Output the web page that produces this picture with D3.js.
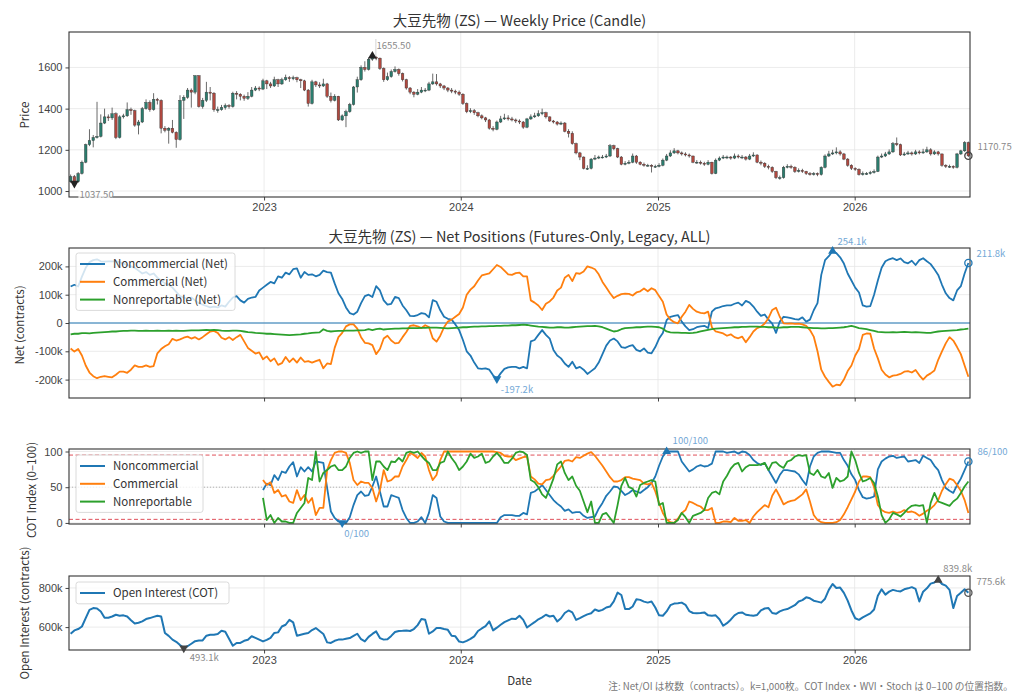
<!DOCTYPE html>
<meta charset="utf-8">
<title>大豆先物 (ZS) — COT</title>
<style>
  body { margin: 0; background: #fff; }
  svg { font-family: "Noto Sans CJK JP", "Noto Sans", sans-serif; }
  .tick text { fill: #444; font-size: 11px; }
  .tick line { stroke: #444; }
  .domain { display: none; }
</style>
<svg width="1024" height="699"></svg>
<script src="https://d3js.org/d3.v7.min.js"></script>
<script>

// ---- data (weekly, first week 2022-01-07) ----
var startDate = new Date(2022, 0, 7);
var firstOpen = 1045;

var closes = [
  1070,1045,1085,1140,1225,1245,1260,1265,1330,1360,
  1355,1375,1260,1360,1365,1395,1390,1320,1335,1400,
  1430,1395,1445,1440,1305,1295,1305,1285,1250,1440,
  1455,1490,1480,1560,1410,1440,1480,1475,1395,1395,
  1405,1415,1410,1475,1470,1460,1450,1460,1490,1500,
  1495,1535,1520,1510,1540,1520,1540,1550,1545,1550,
  1540,1535,1490,1425,1530,1515,1510,1520,1460,1440,
  1460,1345,1365,1385,1420,1505,1540,1600,1590,1640,
  1650,1645,1595,1540,1555,1580,1590,1570,1540,1500,
  1480,1470,1480,1490,1490,1520,1530,1520,1510,1500,
  1490,1485,1480,1470,1425,1385,1390,1380,1365,1355,
  1345,1305,1300,1335,1350,1355,1350,1345,1340,1335,
  1310,1350,1360,1365,1375,1380,1360,1340,1335,1325,
  1330,1290,1280,1230,1185,1165,1110,1110,1155,1160,
  1165,1165,1170,1220,1205,1165,1130,1135,1140,1170,
  1140,1130,1125,1125,1120,1120,1125,1150,1170,1185,
  1195,1185,1180,1175,1170,1140,1140,1135,1130,1140,
  1085,1150,1160,1165,1165,1160,1170,1165,1165,1155,
  1170,1175,1140,1135,1120,1115,1095,1065,1065,1115,
  1120,1115,1095,1100,1095,1085,1080,1085,1080,1115,
  1170,1180,1185,1190,1180,1155,1125,1110,1105,1080,
  1085,1085,1090,1095,1165,1170,1180,1190,1230,1225,
  1175,1180,1185,1180,1190,1185,1190,1200,1180,1190,
  1180,1125,1120,1120,1115,1180,1195,1235,1170.75
];
var highs = [
  1080,1078,1092,1148,1230,1300,1272,1433,1372,1400,
  1372,1405,1382,1368,1375,1430,1405,1395,1345,1408,
  1445,1440,1475,1452,1445,1315,1310,1345,1290,1465,
  1465,1500,1498,1562,1562,1452,1530,1505,1480,1410,
  1418,1425,1422,1482,1485,1475,1468,1480,1505,1510,
  1508,1545,1540,1530,1555,1545,1550,1565,1558,1560,
  1555,1545,1540,1495,1540,1535,1528,1545,1525,1478,
  1470,1462,1372,1395,1428,1510,1555,1610,1630,1648,
  1655.5,1654,1648,1600,1575,1590,1605,1595,1575,1545,
  1505,1485,1495,1505,1500,1530,1570,1568,1525,1515,
  1505,1500,1492,1488,1475,1430,1402,1398,1385,1372,
  1360,1350,1315,1342,1365,1375,1368,1360,1352,1348,
  1340,1355,1372,1380,1392,1400,1385,1362,1345,1340,
  1338,1335,1300,1290,1235,1190,1168,1125,1160,1175,
  1172,1175,1180,1228,1225,1210,1170,1145,1150,1182,
  1175,1145,1138,1132,1130,1128,1135,1158,1180,1198,
  1208,1200,1192,1188,1182,1172,1150,1148,1142,1150,
  1142,1158,1168,1175,1172,1170,1182,1178,1175,1170,
  1180,1188,1178,1148,1140,1128,1120,1098,1075,1122,
  1130,1128,1120,1110,1108,1098,1092,1092,1090,1120,
  1178,1195,1200,1212,1198,1185,1160,1130,1115,1110,
  1095,1092,1098,1105,1172,1182,1190,1202,1238,1260,
  1230,1190,1195,1192,1200,1198,1205,1215,1208,1198,
  1195,1182,1130,1128,1125,1185,1200,1242,1240
];
var lows = [
  1040,1037.5,1040,1080,1135,1218,1212,1255,1260,1325,
  1340,1345,1252,1255,1352,1360,1370,1312,1275,1330,
  1395,1385,1390,1420,1280,1285,1230,1280,1210,1245,
  1350,1448,1405,1470,1405,1400,1432,1440,1385,1380,
  1390,1395,1400,1405,1445,1440,1438,1442,1455,1485,
  1485,1490,1495,1500,1505,1505,1515,1535,1530,1538,
  1528,1500,1485,1410,1420,1505,1500,1505,1452,1430,
  1435,1340,1340,1310,1380,1415,1478,1535,1580,1585,
  1632,1635,1588,1530,1535,1550,1575,1560,1532,1492,
  1470,1455,1465,1475,1480,1485,1515,1512,1500,1490,
  1480,1475,1470,1462,1418,1378,1378,1370,1358,1348,
  1335,1298,1290,1295,1330,1345,1342,1338,1330,1325,
  1302,1305,1345,1355,1360,1368,1352,1335,1328,1318,
  1320,1285,1260,1225,1178,1150,1105,1102,1105,1150,
  1155,1158,1160,1165,1198,1160,1125,1125,1130,1135,
  1132,1125,1118,1118,1090,1112,1115,1120,1145,1165,
  1180,1178,1172,1168,1162,1135,1132,1128,1122,1125,
  1080,1082,1145,1155,1155,1152,1155,1158,1155,1148,
  1150,1165,1135,1125,1112,1105,1088,1058,1055,1060,
  1110,1108,1088,1090,1088,1078,1075,1075,1072,1075,
  1110,1165,1175,1178,1172,1150,1118,1102,1098,1075,
  1075,1078,1080,1085,1092,1160,1165,1175,1185,1218,
  1170,1170,1175,1172,1175,1178,1180,1185,1172,1175,
  1172,1118,1112,1112,1108,1110,1175,1190,1165
];

// net positions, thousands of contracts
var ncNet = [
  129,135,129,164,195,215,222,225,218,217,
  218,218,218,215,210,205,200,195,185,175,
  180,170,175,160,150,140,135,125,110,95,
  90,85,90,80,70,65,60,55,58,55,
  62,58,75,90,95,80,72,85,90,92,
  115,125,135,145,140,165,160,178,172,190,
  193,160,180,170,172,165,170,185,180,178,
  140,105,85,55,35,30,40,70,95,100,
  92,130,115,80,65,68,92,88,62,45,
  25,24,28,35,32,20,81,75,45,22,
  15,12,-5,-25,-60,-100,-115,-140,-160,-162,
  -160,-165,-185,-197.2,-178,-162,-157,-155,-155,-160,
  -155,-160,-65,-60,-42,-25,-42,-55,-95,-115,
  -125,-143,-155,-137,-160,-155,-165,-180,-170,-160,
  -140,-110,-80,-62,-55,-65,-85,-88,-82,-78,
  -95,-100,-90,-105,-107,-85,-55,-35,10,22,
  25,28,5,-12,-25,-22,-15,-12,-10,-18,
  40,52,55,60,62,62,68,72,62,78,
  72,58,40,25,30,12,-2,-35,5,22,
  20,17,14,12,20,5,12,45,70,170,
  222,236,254.1,247,232,210,175,150,125,108,
  62,58,60,100,150,195,218,225,229,222,
  228,215,211,220,205,222,229,218,208,190,
  170,135,105,88,80,115,130,175,211.8
];
var cNet = [
  -90,-101,-92,-115,-150,-175,-188,-195,-190,-188,
  -190,-192,-183,-172,-172,-176,-165,-150,-155,-155,
  -150,-155,-152,-107,-92,-82,-75,-56,-62,-58,
  -52,-48,-55,-50,-58,-50,-40,-30,-28,-35,
  -52,-58,-50,-60,-50,-42,-65,-88,-98,-108,
  -104,-128,-118,-135,-125,-148,-142,-120,-138,-125,
  -140,-122,-137,-135,-140,-135,-130,-160,-143,-145,
  -88,-50,-35,-12,-5,-5,-20,-50,-70,-72,
  -78,-110,-92,-55,-45,-62,-72,-70,-50,-32,
  -10,-8,-12,-18,-8,-14,-54,-66,-45,-15,
  5,12,22,32,55,100,118,130,150,168,
  172,175,190,205,198,185,172,170,176,178,
  165,165,80,72,62,46,68,76,90,115,
  125,160,170,148,176,174,182,200,196,190,
  172,145,125,105,88,96,102,104,103,97,
  108,112,122,112,123,116,95,75,30,12,
  3,-1,22,40,64,50,40,36,34,40,
  -15,-30,-33,-37,-45,-40,-50,-54,-48,-68,
  -50,-30,-18,-13,-2,17,46,54,22,-1,
  -2,-1,-3,-2,-5,-10,-25,-48,-100,-165,
  -190,-208,-225,-218,-220,-200,-170,-150,-115,-92,
  -42,-37,-38,-90,-125,-165,-182,-192,-186,-184,
  -180,-172,-170,-175,-166,-185,-200,-186,-178,-168,
  -130,-100,-72,-50,-62,-85,-110,-150,-190
];
var nrNet = [
  -40,-38,-38,-36,-36,-37,-35,-34,-33,-32,
  -31,-30,-30,-29,-28,-28,-27,-27,-28,-28,
  -27,-28,-28,-27,-28,-28,-27,-28,-27,-28,
  -28,-27,-26,-26,-26,-25,-24,-25,-24,-25,
  -27,-28,-28,-27,-27,-28,-30,-32,-33,-35,
  -36,-37,-38,-38,-39,-40,-41,-42,-43,-42,
  -41,-40,-38,-37,-35,-34,-33,-22,-28,-30,
  -29,-28,-28,-27,-27,-27,-26,-26,-25,-22,
  -25,-22,-20,-23,-22,-21,-20,-20,-19,-19,
  -18,-18,-18,-17,-17,-16,-16,-16,-17,-18,
  -19,-18,-17,-16,-15,-15,-14,-13,-13,-12,
  -12,-11,-11,-10,-10,-9,-9,-8,-8,-7,
  -6,-7,-9,-11,-13,-14,-15,-16,-16,-15,
  -15,-16,-16,-15,-14,-13,-12,-11,-11,-10,
  -12,-15,-20,-25,-30,-28,-22,-18,-17,-16,
  -15,-15,-14,-13,-13,-14,-15,-20,-30,-33,
  -34,-34,-35,-35,-36,-35,-33,-30,-27,-24,
  -22,-20,-19,-18,-17,-16,-15,-15,-14,-14,
  -13,-13,-13,-14,-14,-15,-15,-16,-16,-15,
  -15,-14,-14,-14,-15,-16,-17,-18,-18,-19,
  -19,-18,-18,-17,-16,-15,-13,-10,-14,-18,
  -20,-22,-25,-28,-31,-32,-33,-33,-32,-33,
  -32,-31,-32,-33,-32,-33,-34,-35,-35,-32,
  -30,-29,-28,-27,-26,-25,-23,-22,-20
];

// COT index (0-100), starts at week 51
var cotStart = 51;
var ncCot = [
  46,55,53,67,60,72,70,79,85,65,
  78,72,78,72,86,85,84,49,16,7,
  2,0,0,8,25,39,44,38,39,51,
  65,44,23,23,39,37,35,18,7,0,
  0,2,8,0,14,39,35,9,2,0,
  0,0,0,0,0,0,0,0,0,0,
  0,0,0,8,11,11,11,10,10,14,
  12,42,44,48,53,46,39,32,27,23,
  17,19,14,15,15,10,7,8,9,20,
  28,38,44,51,50,45,39,42,46,44,
  42,46,50,56,65,80,93,100,100,100,
  100,86,79,72,75,79,81,79,80,83,
  100,100,100,98,99,100,97,100,99,95,
  88,84,81,84,74,65,56,67,74,74,
  73,72,68,60,53,79,93,98,100,100,
  100,99,98,98,88,80,68,60,46,36,
  34,35,37,75,86,90,93,94,91,92,
  93,86,87,88,84,94,91,88,80,74,
  60,49,45,42,53,62,74,86
];
var cCot = [
  60,53,57,42,46,37,39,30,28,46,
  32,39,28,35,11,21,21,74,88,98,
  100,100,98,84,60,53,58,56,56,49,
  30,46,74,58,60,65,65,79,88,98,
  95,91,98,93,74,60,67,88,100,100,
  100,100,100,100,100,100,100,100,100,100,
  100,100,99,98,94,93,93,88,90,92,
  93,65,61,55,54,60,61,66,73,79,
  87,88,86,92,91,94,97,99,94,87,
  80,72,64,58,58,60,64,64,62,61,
  60,55,54,56,44,28,14,5,1,0,
  6,14,18,30,28,25,23,18,18,21,
  0,0,2,2,1,7,3,3,4,0,
  9,15,20,25,22,38,47,37,26,29,
  31,32,36,40,47,30,11,4,1,0,
  0,0,1,4,12,22,33,44,58,65,
  65,64,50,25,18,15,14,16,14,15,
  18,15,16,14,10,13,17,20,25,32,
  45,54,62,60,53,45,32,14
];
var nrCot = [
  35,4,11,0,7,2,2,0,0,14,
  21,28,63,60,100,58,70,74,79,81,
  74,74,79,91,98,100,98,100,100,60,
  86,86,79,74,86,85,91,86,98,100,
  98,100,94,88,84,74,74,84,86,100,
  91,84,74,79,86,97,91,93,97,84,
  86,93,98,92,84,84,90,98,100,99,
  95,60,57,50,40,35,48,62,82,86,
  70,60,65,52,45,30,15,30,0,0,
  12,14,7,0,25,52,63,50,48,37,
  53,56,58,60,58,25,28,0,0,0,
  4,14,8,0,10,12,14,18,35,42,
  44,40,58,66,76,82,84,72,78,81,
  81,81,82,84,74,84,85,80,77,86,
  88,93,95,94,95,70,67,74,65,63,
  70,49,63,58,60,65,100,88,70,58,
  60,63,56,37,11,0,5,14,12,9,
  14,20,24,25,24,25,0,28,42,30,
  28,26,24,30,34,42,51,58
];

// open interest, thousands of contracts
var openInterest = [
  566,583,590,603,646,688,697,695,680,648,
  648,654,663,658,660,654,635,618,622,629,
  641,646,652,658,654,570,555,536,525,508,
  493.1,502,515,528,532,532,556,561,561,565,
  581,576,540,505,519,519,530,535,553,545,
  536,527,535,545,570,573,603,612,637,624,
  556,561,566,570,585,595,580,565,522,519,
  530,536,536,540,544,555,566,538,527,550,
  565,578,544,536,538,555,575,580,581,583,
  580,590,610,641,637,566,578,595,595,590,
  586,556,553,526,522,530,540,553,580,593,
  605,629,583,597,612,625,634,643,641,658,
  637,598,612,625,640,650,663,654,658,629,
  645,672,685,675,637,646,656,665,671,690,
  682,688,700,705,731,776,764,692,692,705,
  742,739,730,725,731,700,660,658,680,712,
  720,722,725,714,682,672,671,672,675,660,
  658,660,640,607,620,638,660,672,675,663,
  660,658,662,685,695,697,672,668,680,688,
  692,702,712,731,738,752,747,735,730,725,
  745,790,820,800,802,775,735,685,645,637,
  650,660,670,690,760,793,766,781,790,785,
  782,793,798,804,795,731,781,798,822,828,
  839.8,820,812,790,697,759,775,793,775.6
];

var priceTicks = [1000, 1200, 1400, 1600];
var netTicks = [-200, -100, 0, 100, 200];
var cotTicks = [0, 50, 100];
var oiTicks = [600, 800];
var cotBands = [5, 95];

var titlePrice = "大豆先物 (ZS) — Weekly Price (Candle)";
var titleNet = "大豆先物 (ZS) — Net Positions (Futures-Only, Legacy, ALL)";
var footnote = "注: Net/OI は枚数（contracts）。k=1,000枚。COT Index・WVI・Stoch は 0–100 の位置指数。";

// ---- layout ----
var svg = d3.select("svg");
var left = 69, right = 970;
var blue = "#1f77b4", orange = "#ff7f0e", green = "#2ca02c";
var upColor = "#2b7d6e", downColor = "#b0483f";
var noteBlue = "#73a8d6", noteGray = "#8a8a8a";

var N = closes.length;
var dates = d3.range(N).map(function(i) { return d3.timeDay.offset(startDate, 7 * i); });

var x = d3.scaleTime()
    .domain([d3.timeDay.offset(dates[0], -3), d3.timeDay.offset(dates[N - 1], 3)])
    .range([left, right]);
var years = d3.timeYear.range(x.domain()[0], x.domain()[1]);

var gridLayer = svg.append("g");
var dataLayer = svg.append("g");
var axisLayer = svg.append("g");
var noteLayer = svg.append("g");

function frame(y, top, bottom, ticks, fmt, xLabels) {
  gridLayer.append("g").selectAll("line").data(years).enter().append("line")
      .attr("x1", function(d) { return x(d); }).attr("x2", function(d) { return x(d); })
      .attr("y1", top).attr("y2", bottom)
      .attr("stroke", "#e6e6e6").attr("stroke-width", 0.8);
  gridLayer.append("g").selectAll("line").data(ticks).enter().append("line")
      .attr("x1", left).attr("x2", right)
      .attr("y1", function(d) { return y(d); }).attr("y2", function(d) { return y(d); })
      .attr("stroke", "#e6e6e6").attr("stroke-width", 0.8);

  axisLayer.append("g")
      .attr("transform", "translate(" + left + ",0)")
      .call(d3.axisLeft(y).tickValues(ticks).tickFormat(fmt).tickSize(3.5).tickPadding(3));
  axisLayer.append("g")
      .attr("transform", "translate(0," + bottom + ")")
      .call(d3.axisBottom(x).tickValues(years).tickSize(3.5).tickPadding(3)
        .tickFormat(xLabels ? d3.timeFormat("%Y") : function() { return ""; }));
  axisLayer.append("rect")
      .attr("x", left).attr("y", top)
      .attr("width", right - left).attr("height", bottom - top)
      .attr("fill", "none").attr("stroke", "#333").attr("stroke-width", 1.1);
}

function yLabel(text, cx, cy) {
  axisLayer.append("text")
      .attr("transform", "translate(" + cx + "," + cy + ") rotate(-90)")
      .attr("text-anchor", "middle").attr("dy", "0.35em")
      .attr("font-size", 11.5).attr("fill", "#333")
      .text(text);
}

function title(text, cy) {
  axisLayer.append("text")
      .attr("x", (left + right) / 2).attr("y", cy)
      .attr("text-anchor", "middle").attr("font-size", 14.5).attr("fill", "#333")
      .text(text);
}

function legend(x0, y0, w, items) {
  var g = noteLayer.append("g");
  g.append("rect")
      .attr("x", x0).attr("y", y0).attr("width", w).attr("height", items.length * 17.8 + 4)
      .attr("rx", 2.5).attr("fill", "#fff").attr("fill-opacity", 0.8)
      .attr("stroke", "#d0d0d0").attr("stroke-width", 0.8);
  items.forEach(function(it, k) {
    var cy = y0 + 11 + k * 17.8;
    g.append("line").attr("x1", x0 + 4).attr("x2", x0 + 29)
        .attr("y1", cy).attr("y2", cy)
        .attr("stroke", it.color).attr("stroke-width", 2);
    g.append("text").attr("x", x0 + 37).attr("y", cy).attr("dy", "0.35em")
        .attr("font-size", 11.5).attr("fill", "#333").text(it.name);
  });
}

function marker(cx, cy, color, dir) {
  noteLayer.append("path")
      .attr("d", d3.symbol(d3.symbolTriangle, 34)())
      .attr("transform", "translate(" + cx + "," + cy + ")" + (dir < 0 ? " rotate(180)" : ""))
      .attr("fill", color);
}

function lastDot(cx, cy, color) {
  noteLayer.append("circle").attr("cx", cx).attr("cy", cy).attr("r", 3.6)
      .attr("fill", "none").attr("stroke", color).attr("stroke-width", 1.3);
}

function note(text, tx, ty, color) {
  noteLayer.append("text").attr("x", tx).attr("y", ty)
      .attr("font-size", 9.5).attr("fill", color).text(text);
}

function series(values, offset) {
  return values.map(function(v, k) { return { date: dates[k + offset], v: v }; });
}

function drawLine(y, data, color, width) {
  dataLayer.append("path")
      .datum(data)
      .attr("fill", "none").attr("stroke", color).attr("stroke-width", width)
      .attr("stroke-linejoin", "round")
      .attr("d", d3.line().x(function(d) { return x(d.date); }).y(function(d) { return y(d.v); }));
}

// ---- panel 1: weekly candles ----
var y1 = d3.scaleLinear().domain([971, 1772]).range([197, 32]);
frame(y1, 32, 197, priceTicks, d3.format("d"), true);

var candles = dates.map(function(d, i) {
  return { date: d, open: i ? closes[i - 1] : firstOpen, close: closes[i], high: highs[i], low: lows[i] };
});
var cg = dataLayer.append("g");
cg.selectAll("line").data(candles).enter().append("line")
    .attr("x1", function(d) { return x(d.date); }).attr("x2", function(d) { return x(d.date); })
    .attr("y1", function(d) { return y1(d.high); }).attr("y2", function(d) { return y1(d.low); })
    .attr("stroke", "#444").attr("stroke-width", 0.8);
cg.selectAll("rect").data(candles).enter().append("rect")
    .attr("x", function(d) { return x(d.date) - 1.3; })
    .attr("width", 2.6)
    .attr("y", function(d) { return y1(Math.max(d.open, d.close)); })
    .attr("height", function(d) { return Math.max(0.9, Math.abs(y1(d.open) - y1(d.close))); })
    .attr("fill", function(d) { return d.close >= d.open ? upColor : downColor; })
    .attr("stroke", "#333").attr("stroke-width", 0.4);

var iHi = d3.maxIndex(highs), iLo = d3.minIndex(lows);
noteLayer.append("line").attr("x1", x(dates[iHi]) + 3.5).attr("x2", x(dates[iHi]) + 3.5)
    .attr("y1", 39).attr("y2", y1(highs[iHi])).attr("stroke", "#c8c8c8").attr("stroke-width", 0.8);
marker(x(dates[iHi]), y1(highs[iHi]), "#222", 1);
note(highs[iHi].toFixed(2), x(dates[iHi]) + 4, y1(highs[iHi]) - 7, noteGray);
marker(x(dates[iLo]), y1(lows[iLo]), "#222", -1);
noteLayer.append("rect").attr("x", x(dates[iLo]) + 4).attr("y", y1(lows[iLo]) + 6)
    .attr("width", 34).attr("height", 10).attr("fill", "#fff").attr("fill-opacity", 0.8);
note(lows[iLo].toFixed(2), x(dates[iLo]) + 5, y1(lows[iLo]) + 15, noteGray);
lastDot(x(dates[N - 1]), y1(closes[N - 1]), "#444");
note(closes[N - 1].toFixed(2), x(dates[N - 1]) + 9, y1(closes[N - 1]) - 6, noteGray);

title(titlePrice, 25.5);
yLabel("Price", 25, 115);

// ---- panel 2: net positions ----
var y2 = d3.scaleLinear().domain([-265, 265]).range([398, 248]);
frame(y2, 248, 398, netTicks, function(d) { return d === 0 ? "0" : d + "k"; }, false);
dataLayer.append("line").attr("x1", left).attr("x2", right)
    .attr("y1", y2(0)).attr("y2", y2(0)).attr("stroke", blue).attr("stroke-width", 1);
drawLine(y2, series(ncNet, 0), blue, 1.8);
drawLine(y2, series(cNet, 0), orange, 1.8);
drawLine(y2, series(nrNet, 0), green, 1.8);

var kfmt = function(v) { return v.toFixed(1) + "k"; };
var iNcHi = d3.maxIndex(ncNet), iNcLo = d3.minIndex(ncNet);
marker(x(dates[iNcHi]), y2(ncNet[iNcHi]), blue, 1);
note(kfmt(ncNet[iNcHi]), x(dates[iNcHi]) + 5, y2(ncNet[iNcHi]) - 6, noteBlue);
marker(x(dates[iNcLo]), y2(ncNet[iNcLo]), blue, -1);
note(kfmt(ncNet[iNcLo]), x(dates[iNcLo]) + 4, y2(ncNet[iNcLo]) + 14, noteBlue);
lastDot(x(dates[N - 1]), y2(ncNet[N - 1]), blue);
note(kfmt(ncNet[N - 1]), x(dates[N - 1]) + 8, y2(ncNet[N - 1]) - 6, noteBlue);

legend(76, 253, 159, [
  { name: "Noncommercial (Net)", color: blue },
  { name: "Commercial (Net)", color: orange },
  { name: "Nonreportable (Net)", color: green }
]);
title(titleNet, 242);
yLabel("Net (contracts)", 20, 325);

// ---- panel 3: COT index ----
var y3 = d3.scaleLinear().domain([-1.5, 103.5]).range([524, 449]);
frame(y3, 449, 524, cotTicks, d3.format("d"), false);
cotBands.forEach(function(b) {
  dataLayer.append("line").attr("x1", left).attr("x2", right)
      .attr("y1", y3(b)).attr("y2", y3(b))
      .attr("stroke", "#e0505a").attr("stroke-width", 1).attr("stroke-dasharray", "4,2.5");
});
dataLayer.append("line").attr("x1", left).attr("x2", right)
    .attr("y1", y3(50)).attr("y2", y3(50))
    .attr("stroke", "#aaa").attr("stroke-width", 0.9).attr("stroke-dasharray", "1,2");
drawLine(y3, series(ncCot, cotStart), blue, 1.8);
drawLine(y3, series(cCot, cotStart), orange, 1.8);
drawLine(y3, series(nrCot, cotStart), green, 1.8);

var iCotHi = d3.maxIndex(ncCot), iCotLo = d3.minIndex(ncCot);
var dHi = dates[iCotHi + cotStart], dLo = dates[iCotLo + cotStart];
marker(x(dHi), y3(ncCot[iCotHi]), blue, 1);
note(Math.round(ncCot[iCotHi]) + "/100", x(dHi) + 6, y3(ncCot[iCotHi]) - 8, noteBlue);
marker(x(dLo), y3(ncCot[iCotLo]), blue, -1);
note(Math.round(ncCot[iCotLo]) + "/100", x(dLo) + 2, y3(ncCot[iCotLo]) + 14, noteBlue);
var lastCot = ncCot[ncCot.length - 1];
lastDot(x(dates[N - 1]), y3(lastCot), blue);
note(Math.round(lastCot) + "/100", x(dates[N - 1]) + 9, y3(lastCot) - 7, noteBlue);

legend(76, 455, 127, [
  { name: "Noncommercial", color: blue },
  { name: "Commercial", color: orange },
  { name: "Nonreportable", color: green }
]);
yLabel("COT Index (0–100)", 31.5, 490);

// ---- panel 4: open interest ----
var y4 = d3.scaleLinear().domain([483, 861]).range([650, 576]);
frame(y4, 576, 650, oiTicks, function(d) { return d + "k"; }, true);
drawLine(y4, series(openInterest, 0), blue, 2);

var iOiHi = d3.maxIndex(openInterest), iOiLo = d3.minIndex(openInterest);
marker(x(dates[iOiHi]), y4(openInterest[iOiHi]), "#444", 1);
note(kfmt(openInterest[iOiHi]), x(dates[iOiHi]) + 5, y4(openInterest[iOiHi]) - 8, noteGray);
marker(x(dates[iOiLo]), y4(openInterest[iOiLo]), "#444", -1);
note(kfmt(openInterest[iOiLo]), x(dates[iOiLo]) + 6, y4(openInterest[iOiLo]) + 13, noteGray);
lastDot(x(dates[N - 1]), y4(openInterest[N - 1]), "#555");
note(kfmt(openInterest[N - 1]), x(dates[N - 1]) + 8, y4(openInterest[N - 1]) - 8, noteGray);

legend(76, 582, 153, [{ name: "Open Interest (COT)", color: blue }]);
yLabel("Open Interest (contracts)", 24.5, 613);

axisLayer.append("text").attr("x", (left + right) / 2).attr("y", 685)
    .attr("text-anchor", "middle").attr("font-size", 11.5).attr("fill", "#333").text("Date");
axisLayer.append("text").attr("x", 1013).attr("y", 690)
    .attr("text-anchor", "end").attr("font-size", 9.7).attr("fill", "#777").text(footnote);

</script>
